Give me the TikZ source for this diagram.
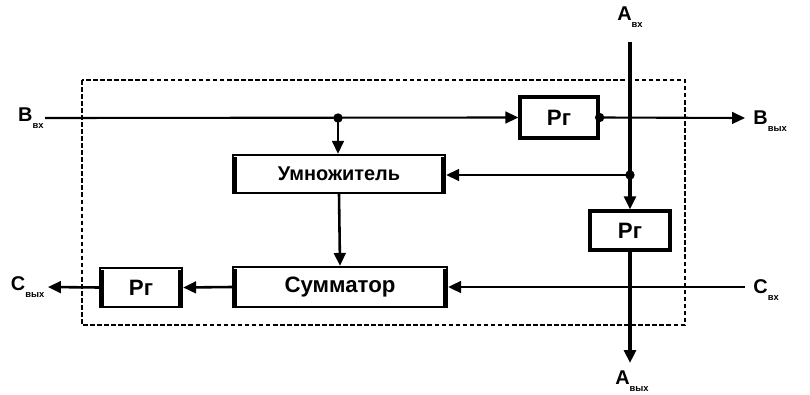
\documentclass[tikz,border=0pt]{standalone}
\usepackage{fontspec}
\setmainfont{Liberation Sans}
\usetikzlibrary{arrows.meta}
\definecolor{ink}{HTML}{000000}
\newcommand{\sig}[2]{\textbf{#1}\raisebox{-0.6ex}{\fontsize{8}{8}\selectfont\bfseries #2}}

\tikzset{
  blok/.style={draw=ink, line width=2.8pt, inner sep=0pt, font=\fontsize{19}{20}\selectfont\bfseries},
  shina/.style={blok, line width=2pt},
  wire/.style={draw=ink, line width=1.8pt},
  bus/.style={draw=ink, line width=3.2pt},
  tip/.style={-{Triangle[length=11pt, width=10pt]}},
  dot/.style={fill=ink, circle, inner sep=0pt, minimum size=8pt},
  frame/.style={draw=ink, line width=1.3pt, dash pattern=on 4pt off 2pt},
  sig/.style={font=\fontsize{17}{17}\selectfont, text=ink, inner sep=1pt}
}

\begin{document}
\begin{tikzpicture}[x=0.03cm, y=-0.03cm, line cap=butt, line join=miter]
\useasboundingbox (0,0) rectangle (810,395);

% ---------------- dashed frame ----------------
\draw[frame] (82,80) rectangle (685,325);

% ---------------- blocks ----------------
\node[blok, minimum width=78*0.03cm, minimum height=41*0.03cm] (rg1) at (559,117.5) {Рг};
\node[blok, minimum width=80*0.03cm, minimum height=39*0.03cm] (rg2) at (630,230.5) {Рг};
\node[shina, minimum width=212*0.03cm, minimum height=38*0.03cm, font=\fontsize{17}{18}\selectfont\bfseries] (umn) at (339,174) {Умножитель};
\node[shina, minimum width=214*0.03cm, minimum height=40*0.03cm] (sum) at (340,287) {Сумматор};
\node[shina, minimum width=82*0.03cm, minimum height=39*0.03cm] (rg3) at (141,287.5) {Рг};

% thick side bars
\foreach \n in {umn,sum,rg3}{
  \draw[line width=3.4pt] ([xshift=3pt,yshift=-3pt]\n.north west) -- ([xshift=3pt,yshift=1pt]\n.south west);
  \draw[line width=3.4pt] ([xshift=-3pt,yshift=-3pt]\n.north east) -- ([xshift=-3pt,yshift=1pt]\n.south east);
}

% ---------------- terminals ----------------
\coordinate (bin) at (45,118);
\coordinate (bout) at (745,118);
\coordinate (ain) at (630,42);
\coordinate (aout) at (630,363);
\coordinate (cin) at (745,287);
\coordinate (cout) at (48,287);
\coordinate (j1) at (338,118);
\coordinate (j2) at (630,175);

\node[sig, anchor=east] (lbin) at (bin) {\sig{B}{вх}};
\node[sig, anchor=west] (lbout) at (752,121) {\sig{B}{вых}};
\node[sig] (lain) at (630,17) {\sig{A}{вх}};
\node[sig] (laout) at (632,381) {\sig{A}{вых}};
\node[sig, anchor=west] (lcin) at (752,290) {\sig{C}{вх}};
\node[sig, anchor=east] (lcout) at ([xshift=-2pt]cout) {\sig{C}{вых}};

% ---------------- connectors ----------------
\draw[wire, tip] (bin) -- (rg1.west);
\draw[wire, tip] (j1) -- (j1 |- umn.north);
\draw[wire, tip] (rg1.east) -- (bout);
\draw[bus, tip] (ain) -- (rg2.north);
\draw[wire, tip] (j2) -- (j2 -| umn.east);
\draw[bus, tip] (rg2.south) -- (aout);
\draw[wire, line width=2.2pt, tip] (umn.south) -- (sum.north);
\draw[wire, line width=2.2pt, tip] (cin) -- (sum.east);
\draw[wire, line width=2.2pt, tip] (sum.west) -- (rg3.east);
\draw[wire, line width=2.2pt, tip] (rg3.west) -- (cout);

\node[dot] at (j1) {};
\node[dot] at (j2) {};
\node[dot] at (rg1.east) {};

\end{tikzpicture}
\end{document}
